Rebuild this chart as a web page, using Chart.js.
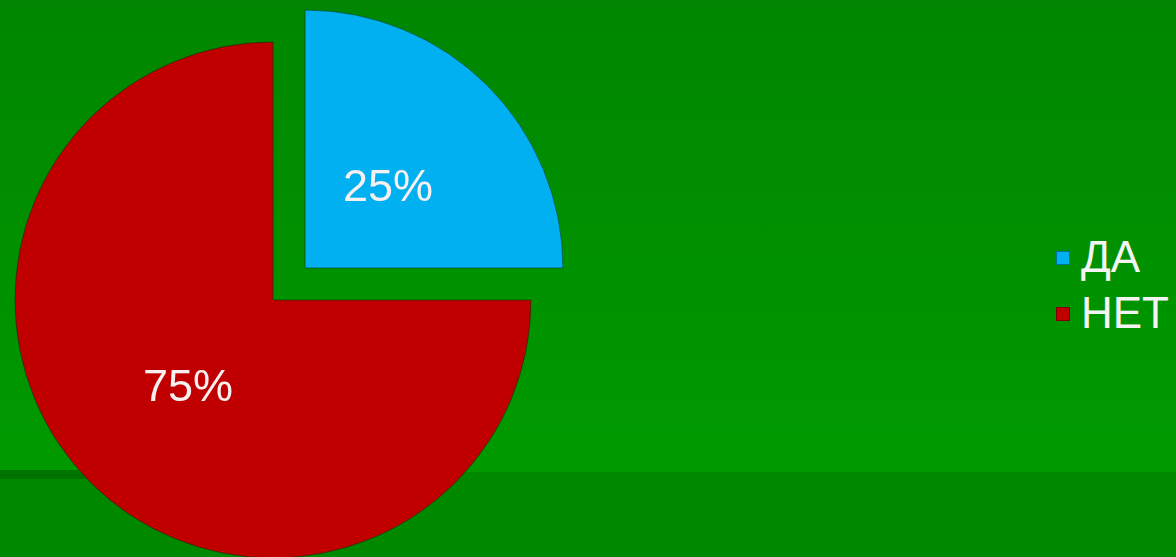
<!DOCTYPE html>
<html>
<head>
<meta charset="utf-8">
<script src="https://cdn.jsdelivr.net/npm/chart.js@4"></script>
<style>
  html, body {
    margin: 0;
    padding: 0;
    width: 1176px;
    height: 557px;
    overflow: hidden;
  }
  body {
    position: relative;
    background: linear-gradient(to bottom, #008600 0px, #009a00 472px, #008800 472px, #008800 557px);
    font-family: 'Liberation Sans', Arial, sans-serif;
  }
  .rule {
    position: absolute;
    left: 0;
    top: 470px;
    width: 300px;
    height: 9px;
    background: #007400;
  }
  #pieChart {
    position: absolute;
    left: -76px;
    top: -49px;
  }
  .legend {
    position: absolute;
    left: 1056px;
    top: 229px;
  }
  .legend-item {
    display: flex;
    align-items: center;
    height: 56px;
    color: #f4f4f4;
    font-size: 44px;
    line-height: 56px;
  }
  .legend-box {
    width: 14px;
    height: 14px;
    margin-right: 11px;
    margin-top: 2px;
    box-sizing: border-box;
    border: 1px solid rgba(0, 0, 0, 0.35);
  }
</style>
</head>
<body>
<div class="rule"></div>
<canvas id="pieChart" width="698" height="698"></canvas>
<div class="legend" id="legend"></div>
<script>
const labels = ['ДА', 'НЕТ'];
const values = [25, 75];
const colors = ['#00b0f0', '#c00000'];
const offsets = [181, 0];

// percent labels drawn inside each slice
const sliceLabels = {
  id: 'sliceLabels',
  afterDatasetsDraw(chart) {
    const ctx = chart.ctx;
    const meta = chart.getDatasetMeta(0);
    const total = values.reduce((a, b) => a + b, 0);
    ctx.save();
    ctx.font = '45px "Liberation Sans", Arial, sans-serif';
    ctx.fillStyle = '#f6f0f0';
    ctx.textAlign = 'center';
    ctx.textBaseline = 'middle';
    meta.data.forEach((arc, i) => {
      const { x, y, startAngle, endAngle, outerRadius, circumference } =
        arc.getProps(['x', 'y', 'startAngle', 'endAngle', 'outerRadius', 'circumference'], true);
      const mid = (startAngle + endAngle) / 2;
      const off = (offsets[i] || 0) / 4;
      const shift = off * (2 - Math.sin(Math.min(Math.PI, circumference)));
      const d = shift + outerRadius * 0.46;
      const pct = Math.round((values[i] / total) * 100) + '%';
      ctx.fillText(pct, x + Math.cos(mid) * d - 1, y + Math.sin(mid) * d + 5);
    });
    ctx.restore();
  },
};

new Chart(document.getElementById('pieChart'), {
  type: 'pie',
  data: {
    labels,
    datasets: [
      {
        data: values,
        backgroundColor: colors,
        borderColor: 'rgba(0, 50, 0, 0.55)',
        borderWidth: 1,
        offset: offsets,
        hoverOffset: 0,
      },
    ],
  },
  options: {
    responsive: false,
    animation: false,
    layout: { padding: 0 },
    plugins: {
      legend: { display: false },
      tooltip: { enabled: false },
    },
  },
  plugins: [sliceLabels],
});

document.getElementById('legend').innerHTML = labels
  .map(
    (l, i) => `
    <div class="legend-item">
      <span class="legend-box" style="background:${colors[i]}"></span>
      <span>${l}</span>
    </div>`
  )
  .join('');
</script>
</body>
</html>
